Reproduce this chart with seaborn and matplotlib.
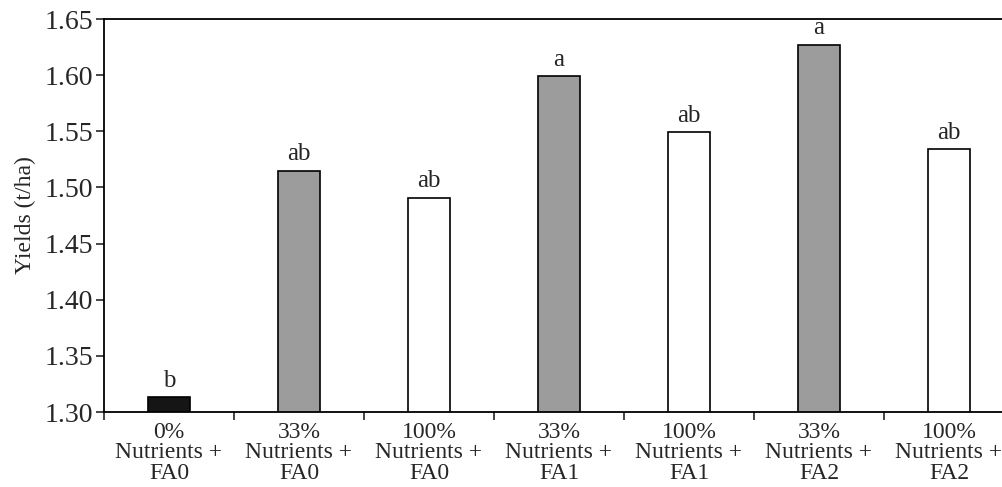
import seaborn as sns
import matplotlib.pyplot as plt
import numpy as np
import pandas as pd

# Data
treatments = ["0%\nNutrients +\nFA0", "33%\nNutrients +\nFA0", "100%\nNutrients +\nFA0",
              "33%\nNutrients +\nFA1", "100%\nNutrients +\nFA1",
              "33%\nNutrients +\nFA2", "100%\nNutrients +\nFA2"]
yields = [1.313, 1.515, 1.491, 1.599, 1.549, 1.627, 1.534]
letters = ["b", "ab", "ab", "a", "ab", "a", "ab"]
bar_colors = ["#151515", "#9c9c9c", "#ffffff", "#9c9c9c", "#ffffff", "#9c9c9c", "#ffffff"]

df = pd.DataFrame({"treatment": treatments, "yield": yields})

sns.set_theme(style="white")
plt.rcParams["font.family"] = ["Liberation Serif", "DejaVu Serif"]

fig = plt.figure(figsize=(10.03, 4.87), dpi=100)
ax = fig.add_axes([104 / 1003, 75 / 487, 910 / 1003, 393 / 487])

sns.barplot(data=df, x="treatment", y="yield", hue="treatment", palette=bar_colors,
            legend=False, width=0.32, edgecolor="black", linewidth=1.2, ax=ax)

ax.set_ylim(1.30, 1.65)
ax.set_xlim(-0.5, 6.5)
ax.set_yticks(np.arange(1.30, 1.651, 0.05))
ax.set_yticklabels([f"{v:.2f}" for v in np.arange(1.30, 1.651, 0.05)], fontsize=20)

# tick marks between categories, labels at centres
ax.set_xticks(np.arange(7))
ax.set_xticklabels(treatments, fontsize=17, linespacing=0.98)
ax.set_xticks(np.arange(-0.5, 7, 1), minor=True)
ax.tick_params(axis="x", which="major", length=0, pad=7)
ax.tick_params(axis="x", which="minor", length=6, width=1.2, direction="out", bottom=True)
ax.tick_params(axis="y", length=6, width=1.2, direction="out", left=True, pad=2)

ax.set_xlabel("")
ax.set_ylabel("Yields (t/ha)", fontsize=17, labelpad=6)

for s in ["left", "bottom", "top"]:
    ax.spines[s].set_color("black")
    ax.spines[s].set_linewidth(1.3)
ax.spines["right"].set_visible(False)

for i, (v, t) in enumerate(zip(yields, letters)):
    ax.text(i, v + 0.005, t, ha="center", va="bottom", fontsize=18)

fig.savefig("out.png", dpi=100)
